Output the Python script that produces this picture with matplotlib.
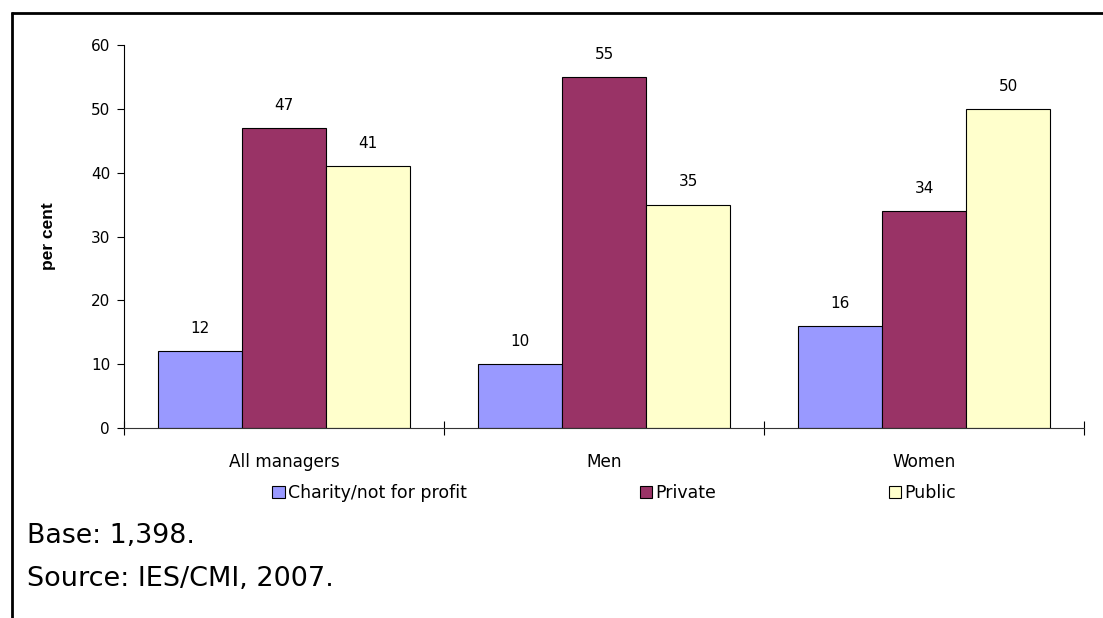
import matplotlib

matplotlib.use("Agg")
import matplotlib.pyplot as plt
import numpy as np
from matplotlib.lines import Line2D

# Sector of employment by manager group
groups = ["All managers", "Men", "Women"]
sectors = ["Charity/not for profit", "Private", "Public"]
charity = [12, 10, 16]
private = [47, 55, 34]
public = [41, 35, 50]
sector_colors = ["#9999FF", "#993366", "#FFFFCC"]
y_ticks = [0, 10, 20, 30, 40, 50, 60]

plt.rcParams["font.family"] = ["DejaVu Sans"]

fig = plt.figure(figsize=(11.03, 6.18), dpi=100)
ax = fig.add_axes([0.1124, 0.3074, 0.8704, 0.6197])

x = np.arange(len(groups))
width = 0.2625
series = [charity, private, public]
for i, (name, vals, color) in enumerate(zip(sectors, series, sector_colors)):
    bars = ax.bar(x + (i - 1) * width, vals, width, color=color,
                  edgecolor="black", linewidth=0.8, label=name)
    ax.bar_label(bars, padding=11, fontsize=11)

ax.set_xlim(-0.5, len(groups) - 0.5)
ax.set_ylim(0, 60)
ax.set_yticks(y_ticks)
ax.set_xticks(x)
ax.set_xticklabels(groups)
ax.set_xticks(np.arange(len(groups) + 1) - 0.5, minor=True)
ax.tick_params(axis="x", which="major", length=0, pad=18, labelsize=12.2)
ax.tick_params(axis="x", which="minor", length=10, direction="inout", width=0.8)
ax.tick_params(axis="y", length=5, width=0.8, pad=5, labelsize=11)

for side in ("top", "right"):
    ax.spines[side].set_visible(False)
ax.spines["left"].set_linewidth(0.8)
ax.spines["bottom"].set_linewidth(0.8)
ax.spines["bottom"].set_color("#333333")

ax.set_ylabel("per cent", fontsize=12.5, fontweight="bold",
              family=["Liberation Sans", "DejaVu Sans"], labelpad=25)

handles, labels = ax.get_legend_handles_labels()
fig.legend(handles, labels, ncol=3, loc="center left",
           bbox_to_anchor=(0.247, 0.2023), frameon=False, fontsize=12.5,
           handlelength=0.7, handleheight=0.7, handletextpad=0.2,
           columnspacing=9.95, borderpad=0, borderaxespad=0)

fig.text(0.0245, (618 - 536) / 618, "Base: 1,398.", fontsize=19.3, va="center")
fig.text(0.0245, (618 - 579) / 618, "Source: IES/CMI, 2007.", fontsize=19.5, va="center")

# open frame: top and left edges only
fig.add_artist(Line2D([11 / 1103, 1.0], [1 - 13 / 618] * 2, transform=fig.transFigure,
                      color="black", linewidth=2, solid_capstyle="butt"))
fig.add_artist(Line2D([12 / 1103] * 2, [0.0, 1 - 12 / 618], transform=fig.transFigure,
                      color="black", linewidth=2, solid_capstyle="butt"))

fig.savefig("out.png", dpi=100)
